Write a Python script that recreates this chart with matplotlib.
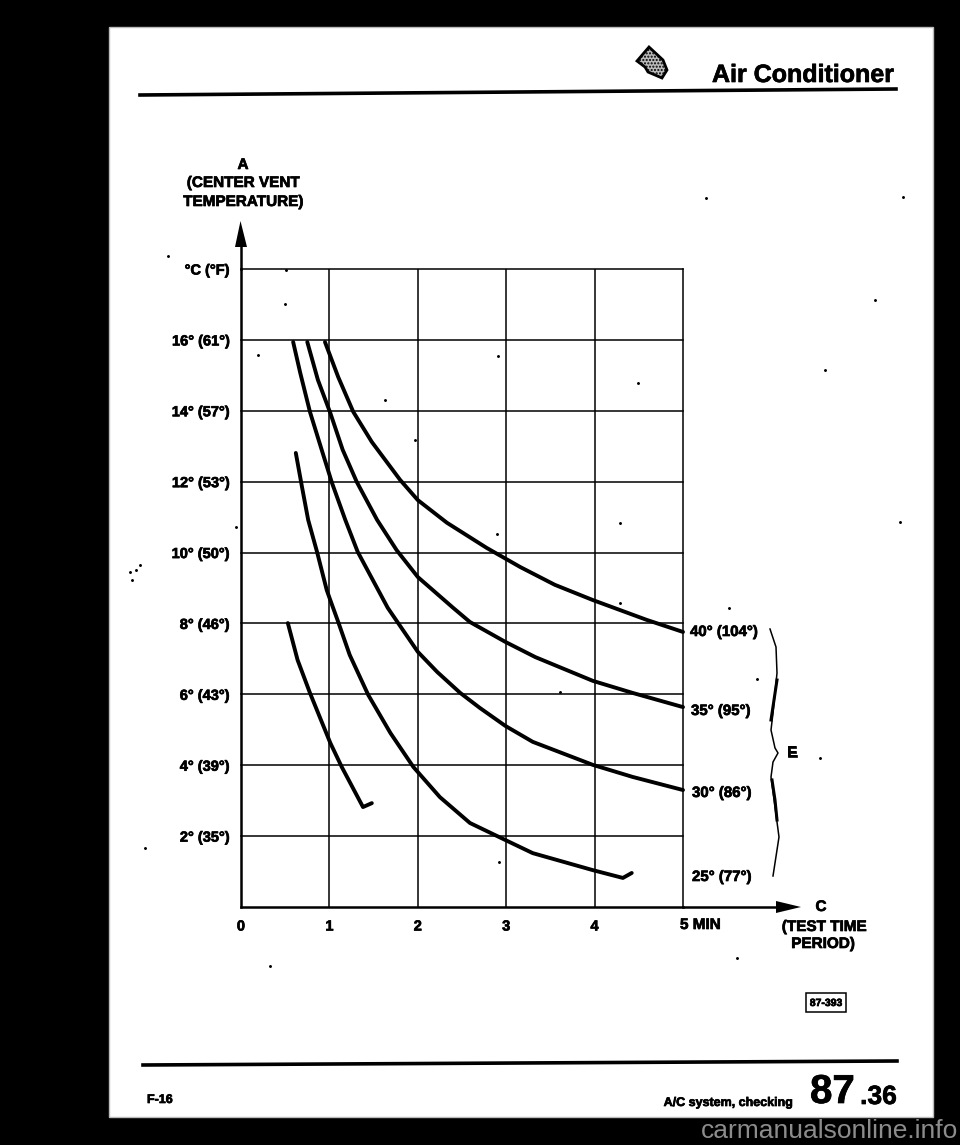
#!/usr/bin/env python3
"""Center vent temperature vs test time, scanned manual page."""

import matplotlib
matplotlib.use('Agg')
import matplotlib.patheffects as pe
import matplotlib.pyplot as plt
from matplotlib.patches import Polygon, Rectangle

plt.rcParams['font.family'] = ['Liberation Sans', 'DejaVu Sans']
plt.rcParams['font.weight'] = 'bold'

x_ticks = [0, 1, 2, 3, 4]
x_tick_labels = ['0', '1', '2', '3', '4']
y_ticks = [2, 4, 6, 8, 10, 12, 14, 16, 18]
y_tick_labels = ['2° (35°)', '4° (39°)', '6° (43°)', '8° (46°)', '10° (50°)',
                 '12° (53°)', '14° (57°)', '16° (61°)', '°C (°F)']

t_40 = [0.95, 1.10, 1.27, 1.48, 1.80, 2.00, 2.33, 2.78, 3.16, 3.55, 3.98, 4.59, 5.00]
v_40 = [15.94, 14.95, 13.97, 13.12, 12.05, 11.48, 10.84, 10.13, 9.59, 9.09, 8.66, 8.10, 7.76]
t_35 = [0.75, 0.87, 1.01, 1.15, 1.31, 1.54, 1.76, 2.00, 2.40, 2.59, 2.99, 3.33, 3.98, 4.43, 5.00]
v_35 = [15.94, 14.87, 13.94, 12.90, 11.99, 10.92, 10.07, 9.31, 8.44, 8.04, 7.48, 7.05, 6.38, 6.04, 5.64]
t_30 = [0.59, 0.67, 0.78, 0.92, 1.03, 1.18, 1.32, 1.66, 2.00, 2.22, 2.48, 2.70, 2.99, 3.30, 3.98, 4.43, 5.00]
v_30 = [15.94, 15.07, 13.97, 12.84, 11.96, 10.92, 10.02, 8.44, 7.20, 6.63, 6.04, 5.62, 5.11, 4.66, 4.01, 3.67, 3.30]
t_25 = [0.62, 0.69, 0.76, 0.86, 0.97, 1.01, 1.10, 1.23, 1.44, 1.69, 1.95, 2.25, 2.59, 2.99, 3.30, 3.98, 4.32, 4.42]
v_25 = [12.81, 11.85, 10.92, 10.02, 8.94, 8.66, 8.04, 7.11, 5.98, 4.91, 3.95, 3.10, 2.37, 1.89, 1.52, 1.04, 0.82, 0.96]
t_low = [0.53, 0.64, 0.78, 1.01, 1.14, 1.38, 1.48]
v_low = [8.01, 6.97, 6.04, 4.63, 3.95, 2.82, 2.93]

curve_labels = ['40° (104°)', '35° (95°)', '30° (86°)', '25° (77°)']
specks = [(168, 256), (285, 304), (258, 355), (498, 356), (385, 400), (638, 383),
          (415, 440), (620, 523), (236, 527), (499, 862), (757, 679), (737, 958),
          (286, 270), (706, 198), (903, 197), (875, 300), (825, 370), (900, 522),
          (270, 966), (145, 848), (820, 758), (560, 692), (620, 603), (136, 570),
          (497, 534), (729, 608), (130, 572), (140, 565), (132, 580)]

fig = plt.figure(figsize=(9.6, 11.45), dpi=100, facecolor='black')

# page layer in pixel coordinates
page = fig.add_axes([0, 0, 1, 1])
page.set_xlim(0, 960)
page.set_ylim(1145, 0)
page.axis('off')
page.add_patch(Rectangle((109, 27), 824, 1090, fc='white', ec='#bbbbbb', lw=1))
page.plot([140, 896], [95, 89], color='black', lw=2.6)
page.plot([143, 897], [1065, 1061], color='black', lw=2.6)
page.text(894, 82, 'Air Conditioner', ha='right', va='baseline', fontsize=18)
page.add_patch(Polygon([(637, 61), (649, 47), (663, 60), (667, 70), (662, 78), (648, 72), (645, 67)],
                       fc='#bbbbbb', ec='black', lw=2, hatch='.....'))

page.text(243, 165, 'A', ha='center', va='center', fontsize=11)
page.text(243, 183, '(CENTER VENT', ha='center', va='center', fontsize=11)
page.text(243, 202, 'TEMPERATURE)', ha='center', va='center', fontsize=11)
page.text(821, 907, 'C', ha='center', va='center', fontsize=11)
page.text(824, 927, '(TEST TIME', ha='center', va='center', fontsize=11)
page.text(823, 944, 'PERIOD)', ha='center', va='center', fontsize=11)
page.text(680, 925, '5 MIN', ha='left', va='center', fontsize=11)

for label, ypos, xpos in zip(curve_labels, [632, 711, 793, 877], [690, 691, 692, 692]):
    page.text(xpos, ypos, label, ha='left', va='center', fontsize=10.8)

# brace
page.plot([770, 776, 777, 773, 771, 775, 778, 773, 771, 775, 779, 773],
          [629, 647, 673, 713, 730, 748, 753, 762, 777, 807, 837, 876],
          color='black', lw=1.1)
page.plot([777, 774, 771], [680, 700, 720], color='black', lw=2.2)
page.plot([772, 775, 777], [780, 800, 820], color='black', lw=2.2)
page.text(792, 753, 'E', ha='center', va='center', fontsize=11)

page.add_patch(Rectangle((806, 993), 40, 19, fc='white', ec='black', lw=1.1))
page.text(826, 1003, '87-393', ha='center', va='center', fontsize=7.5)
page.text(147, 1103, 'F-16', ha='left', va='baseline', fontsize=9)
page.text(793, 1106, 'A/C system, checking', ha='right', va='baseline', fontsize=9)
page.text(810, 1103, '87', ha='left', va='baseline', fontsize=29)
page.text(897, 1104, '.36', ha='right', va='baseline', fontsize=19)
page.text(958, 1131, 'carmanualsonline.info', ha='right', va='center', fontsize=19,
          color='#8c8c8c', fontweight='normal')
page.plot(*zip(*specks), ls='none', marker='o', ms=1.1, color='black')

# chart layer: 0-5 min spans 241-683 px, 0-18 C spans 907-269 px
ax = fig.add_axes([241 / 960, 1 - 907 / 1145, 442 / 960, 638 / 1145])
ax.patch.set_alpha(0)
ax.set_xlim(0, 5)
ax.set_ylim(0, 18)
ax.set_xticks(x_ticks, x_tick_labels, fontsize=10.5)
ax.set_yticks(y_ticks, y_tick_labels, fontsize=10.5)
ax.tick_params(axis='y', length=0, pad=8)
ax.tick_params(axis='x', length=0, pad=9)
ax.grid(True, color='black', lw=1.1)
ax.set_axisbelow(True)
for line in ax.get_ygridlines():
    line.set_clip_on(False)
for side in ['top', 'right']:
    ax.spines[side].set_visible(False)
ax.spines['left'].set_linewidth(1.8)
ax.spines['bottom'].set_linewidth(1.8)
ax.plot([5, 5], [0, 18], color='black', lw=1.1, clip_on=False)

for t, v in [(t_40, v_40), (t_35, v_35), (t_30, v_30), (t_25, v_25), (t_low, v_low)]:
    ax.plot(t, v, color='black', lw=2.8, solid_joinstyle='round',
            solid_capstyle='round', clip_on=False)

# axis arrows
page.plot([241, 241], [269, 240], color='black', lw=1.8)
page.add_patch(Polygon([(235, 247), (247, 247), (240.5, 221)], fc='black', ec='none'))
page.plot([683, 785], [907, 907], color='black', lw=1.8)
page.add_patch(Polygon([(776, 901), (776, 913), (801, 907)], fc='black', ec='none'))

# scanned type is heavier than the plain bold face
heavy = [pe.withStroke(linewidth=0.5, foreground='black')]
for txt in page.texts + ax.get_xticklabels() + ax.get_yticklabels():
    if txt.get_text() != 'carmanualsonline.info':
        txt.set_path_effects(heavy)

fig.savefig('out.png', dpi=100, facecolor='black')
plt.close(fig)
